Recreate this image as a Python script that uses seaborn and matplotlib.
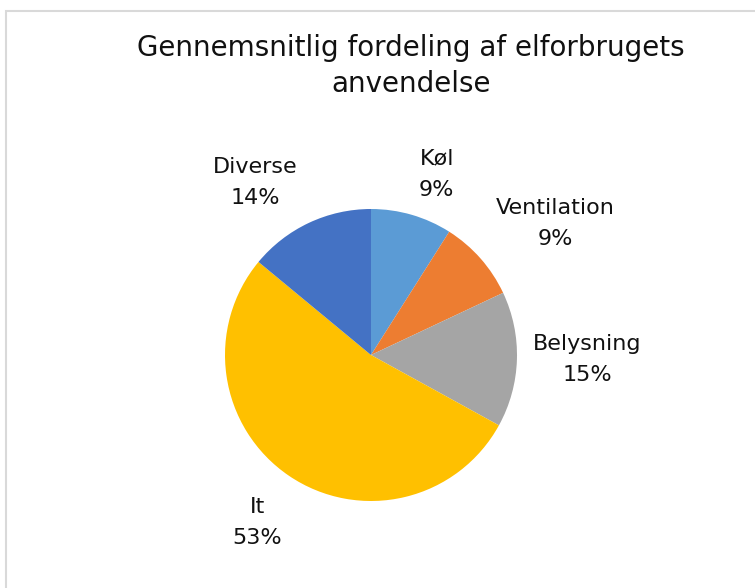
import matplotlib
matplotlib.use("Agg")
import matplotlib.pyplot as plt
from matplotlib.patches import Rectangle
import seaborn as sns

# Data (percent of electricity use)
categories = ["Køl", "Ventilation", "Belysning", "It", "Diverse"]
shares = [9, 9, 15, 53, 14]
colors = ["#5B9BD5", "#ED7D31", "#A5A5A5", "#FFC000", "#4472C4"]

title = "Gennemsnitlig fordeling af elforbrugets\nanvendelse"

# label placement in pie-radius units (Excel "best fit" style)
label_xy = [(0.45, 1.24), (1.26, 0.90), (1.48, -0.03), (-0.78, -1.15), (-0.79, 1.18)]

sns.set_theme(style="white")

W, H = 755, 588
fig = plt.figure(figsize=(W / 100, H / 100), dpi=100)
fig.patch.set_facecolor("white")

# light grey chart-area frame (only left/top visible in the crop)
fig.patches.append(Rectangle((6 / W, -0.1), 1.2, 1.1 - 11 / H, transform=fig.transFigure,
                             fill=False, edgecolor="#D9D9D9", linewidth=1.5))

# pie: centre (371, 355) px, radius 146 px
cx, cy, r = 371, 355, 146
ax = fig.add_axes([(cx - r) / W, (H - cy - r) / H, 2 * r / W, 2 * r / H])
palette = sns.color_palette(colors)
wedges, _ = ax.pie(shares, colors=palette, startangle=90, counterclock=False,
                   radius=1, wedgeprops=dict(linewidth=0))
ax.set_xlim(-1, 1)
ax.set_ylim(-1, 1)
ax.set_aspect("equal")
ax.axis("off")

for name, val, (lx, ly) in zip(categories, shares, label_xy):
    ax.text(lx, ly, f"{name}\n{val}%", ha="center", va="center", fontsize=16,
            family="DejaVu Sans", color="#111111", linespacing=1.7)

fig.text(411 / W, 1 - 66 / H, title, ha="center", va="center", fontsize=20,
         family="DejaVu Sans", color="#111111", linespacing=1.35)

fig.savefig("out.png", dpi=100, facecolor="white")
